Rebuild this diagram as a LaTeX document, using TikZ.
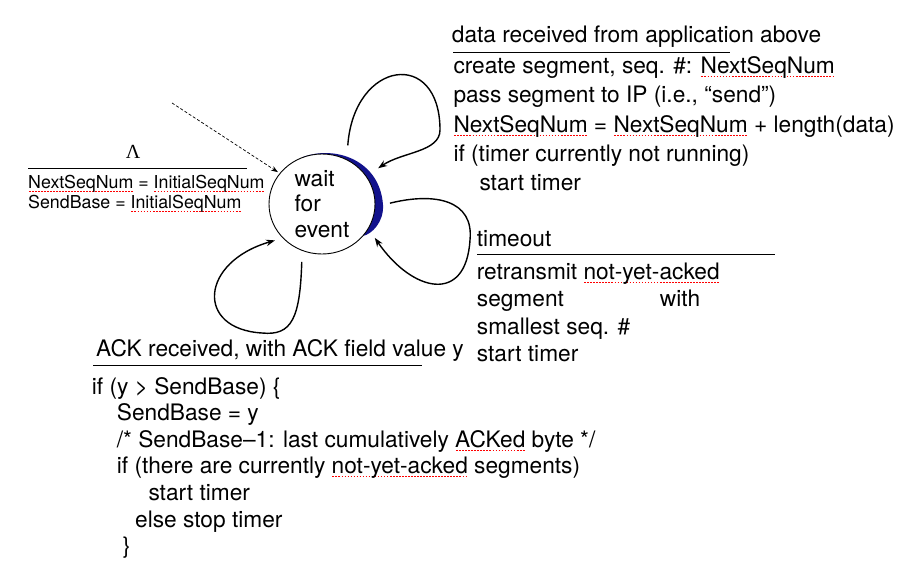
\documentclass[tikz,border=0pt]{standalone}
\usepackage{fontspec}
\setmainfont{TeX Gyre Heros}
\newfontfamily\lamfont{Liberation Serif}
\usetikzlibrary{arrows.meta,shapes.geometric}
\definecolor{rimblue}{RGB}{18,18,140}
% red dotted spell-check mark under a word
\newcommand\squig[1]{\setbox0=\hbox{#1}\rlap{\raisebox{-3.5pt}{\hbox to \wd0{\xleaders\hbox to 3pt{\hss\textcolor{red}{\vrule width 1.6pt height 1.1pt}\hss}\hfill}}}\box0\relax}

\begin{document}
\begin{tikzpicture}[x=1pt,y=-1pt,
    evt/.style={anchor=base west,inner sep=0pt,align=left,font=\fontsize{22.7}{29.4}\selectfont},
    selfloop/.style={line width=1.4pt,-{Stealth[length=9pt,width=6.5pt]}}]
  \useasboundingbox (0,0) rectangle (900,563);
  % the state
  \fill[rimblue] (303,157) .. controls (335,145) and (380,160) .. (383,205)
    .. controls (384,222) and (372,234) .. (363,236) -- (322,204) -- cycle;
  \node[ellipse,draw,line width=0.9pt,fill=white,minimum width=106pt,minimum height=100pt,
    inner sep=0pt,align=left,font=\fontsize{22.7}{25.5}\selectfont] (wait) at (322,204) {wait\\for\\event};
  % initial transition (multi-line nodes sit on their last line)
  \coordinate (start) at (172,103);
  \draw[dashed,dash pattern=on 3pt off 2pt,line width=0.7pt,-{Stealth[length=7pt,width=5pt]},shorten >=2pt] (start) -- (wait.144);
  \node[anchor=base,inner sep=0pt,font=\lamfont\fontsize{20}{22}\selectfont] (lam) at (133,158.5) {Λ};
  \draw[line width=0.8pt] (28,168) -- (247,168);
  \node[evt,font=\fontsize{17.8}{20}\selectfont] (initact) at (28,208.3)
    {\squig{NextSeqNum} = \squig{InitialSeqNum}\\SendBase = \squig{InitialSeqNum}};
  % data from above
  \draw[selfloop,shorten <=14pt,shorten >=14pt] (wait.61) .. controls (354,60) and (440,48) .. (440,130)
    .. controls (440,152) and (402,152) .. (wait.32);
  \node[evt] (hdata) at (451.7,42.7) {data received from application above};
  \draw[line width=0.8pt] (453,52) -- (730,52);
  \node[evt] (adata) at (453.3,190.9) {create segment, seq. \#: \squig{NextSeqNum}\\
    pass segment to IP (i.e., “send”)\\
    \squig{NextSeqNum} = \squig{NextSeqNum} + length(data)\\
    if (timer currently not running)\\
    \hspace*{26pt}start timer};
  % timeout
  \draw[selfloop,shorten <=15pt,shorten >=11pt] (wait.-3) .. controls (435,192) and (474,200) .. (470,240)
    .. controls (466,305) and (412,292) .. (wait.-28);
  \node[evt] (htime) at (476.7,246.7) {timeout};
  \draw[line width=0.8pt] (477,254.3) -- (775,254.3);
  \node[evt,font=\fontsize{22.7}{27.5}\selectfont] (atime) at (476.7,361.8) {retransmit \squig{not-yet-acked}\\
    segment\hspace{96pt}with\\
    smallest seq. \#\\
    start timer};
  % ack received
  \draw[selfloop,shorten <=11pt,shorten >=8pt] (wait.-113) .. controls (300,318) and (292,336) .. (262,333)
    .. controls (195,329) and (200,262) .. (wait.221);
  \node[evt] (hack) at (96,356.7) {ACK received, with ACK field value y};
  \draw[line width=0.8pt] (93,365) -- (422,365);
  \node[evt,font=\fontsize{22.7}{26.6}\selectfont] (aack) at (91.7,553.6) {if (y > SendBase) \{\\
    \hspace*{25pt}SendBase = y\\
    \hspace*{25pt}/* SendBase–1: last cumulatively \squig{ACKed} byte */\\
    \hspace*{25pt}if (there are currently \squig{not-yet-acked} segments)\\
    \hspace*{56.6pt}start timer\\
    \hspace*{43.3pt}else stop timer\\
    \hspace*{31pt}\}};
\end{tikzpicture}
\end{document}
